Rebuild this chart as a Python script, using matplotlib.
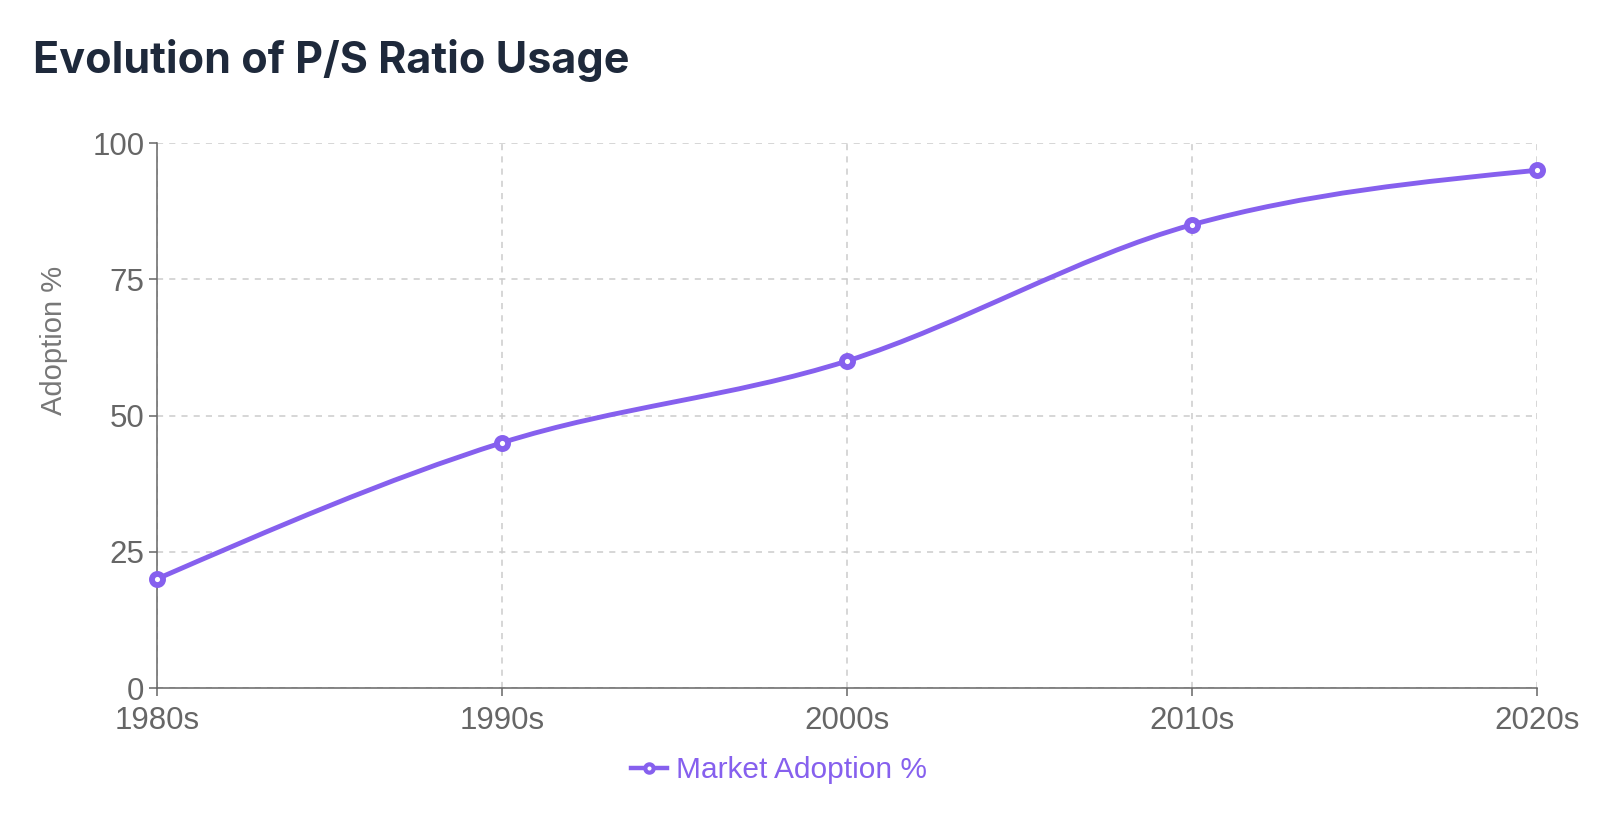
import matplotlib
matplotlib.use("Agg")
import matplotlib.pyplot as plt
import numpy as np
from matplotlib.path import Path
from matplotlib.patches import PathPatch
from matplotlib.lines import Line2D

decades = ["1980s", "1990s", "2000s", "2010s", "2020s"]
adoption = [20, 45, 60, 85, 95]
y_ticks = [0, 25, 50, 75, 100]

PURPLE = "#8660ee"
GRAY = "#666666"

plt.rcParams['font.family'] = ['Liberation Sans', 'DejaVu Sans']


def monotone_slopes(x, y):
    # same slope rule as d3 curveMonotoneX
    n = len(x)
    h = np.diff(x)
    s = np.diff(y) / h
    t = np.zeros(n)
    for i in range(1, n - 1):
        p = (s[i - 1] * h[i] + s[i] * h[i - 1]) / (h[i - 1] + h[i])
        t[i] = (np.sign(s[i - 1]) + np.sign(s[i])) * min(abs(s[i - 1]), abs(s[i]), 0.5 * abs(p))
    t[0] = (3 * s[0] - t[1]) / 2
    t[-1] = (3 * s[-1] - t[-2]) / 2
    return t


xs = np.arange(len(decades), dtype=float)
ys = np.array(adoption, dtype=float)
slopes = monotone_slopes(xs, ys)

verts = [(xs[0], ys[0])]
codes = [Path.MOVETO]
for i in range(len(xs) - 1):
    dx = (xs[i + 1] - xs[i]) / 3
    verts += [(xs[i] + dx, ys[i] + dx * slopes[i]),
              (xs[i + 1] - dx, ys[i + 1] - dx * slopes[i + 1]),
              (xs[i + 1], ys[i + 1])]
    codes += [Path.CURVE4] * 3

fig = plt.figure(figsize=(16, 8.23), dpi=100)
ax = fig.add_axes([0.098, 0.164, 0.8626, 0.6622])

ax.add_patch(PathPatch(Path(verts, codes), facecolor="none", edgecolor=PURPLE,
                       lw=3.5, capstyle="round", joinstyle="round", zorder=3, clip_on=False))
ax.plot(xs, ys, linestyle="none", marker="o", markersize=8, markerfacecolor="white",
        markeredgecolor=PURPLE, markeredgewidth=4.2, zorder=4, clip_on=False)

ax.set_xlim(0, len(decades) - 1)
ax.set_ylim(0, 100)
ax.set_xticks(xs)
ax.set_xticklabels(decades)
ax.set_yticks(y_ticks)

ax.grid(True, color="#cccccc", linestyle=(0, (4, 4)), linewidth=1.1)
ax.set_axisbelow(True)
for side in ["top", "right"]:
    ax.spines[side].set_visible(False)
for side in ["left", "bottom"]:
    ax.spines[side].set_color(GRAY)
    ax.spines[side].set_linewidth(1.1)

ax.tick_params(axis="both", colors=GRAY, labelsize=22.5, length=6, width=1.1)
ax.tick_params(axis="x", pad=7)
ax.tick_params(axis="y", pad=3)
ax.set_ylabel("Adoption %", fontsize=21, color="#777777")
ax.yaxis.set_label_coords(-0.064, 0.637)

fig.text(0.0206, 0.927, "Evolution of P/S Ratio Usage", fontsize=31, fontweight="bold",
         family=["Inter", "DejaVu Sans"], color="#1e293b", va="center", ha="left")

handle = Line2D([], [], color=PURPLE, lw=3.2, marker="o", markersize=6,
                markerfacecolor="white", markeredgecolor=PURPLE, markeredgewidth=3)
leg = fig.legend([handle], ["Market Adoption %"], loc="center", bbox_to_anchor=(0.487, 0.064),
                 frameon=False, fontsize=21.5, handlelength=1.2, handletextpad=0.3)
for txt in leg.get_texts():
    txt.set_color(PURPLE)

fig.savefig("out.png", dpi=100)
